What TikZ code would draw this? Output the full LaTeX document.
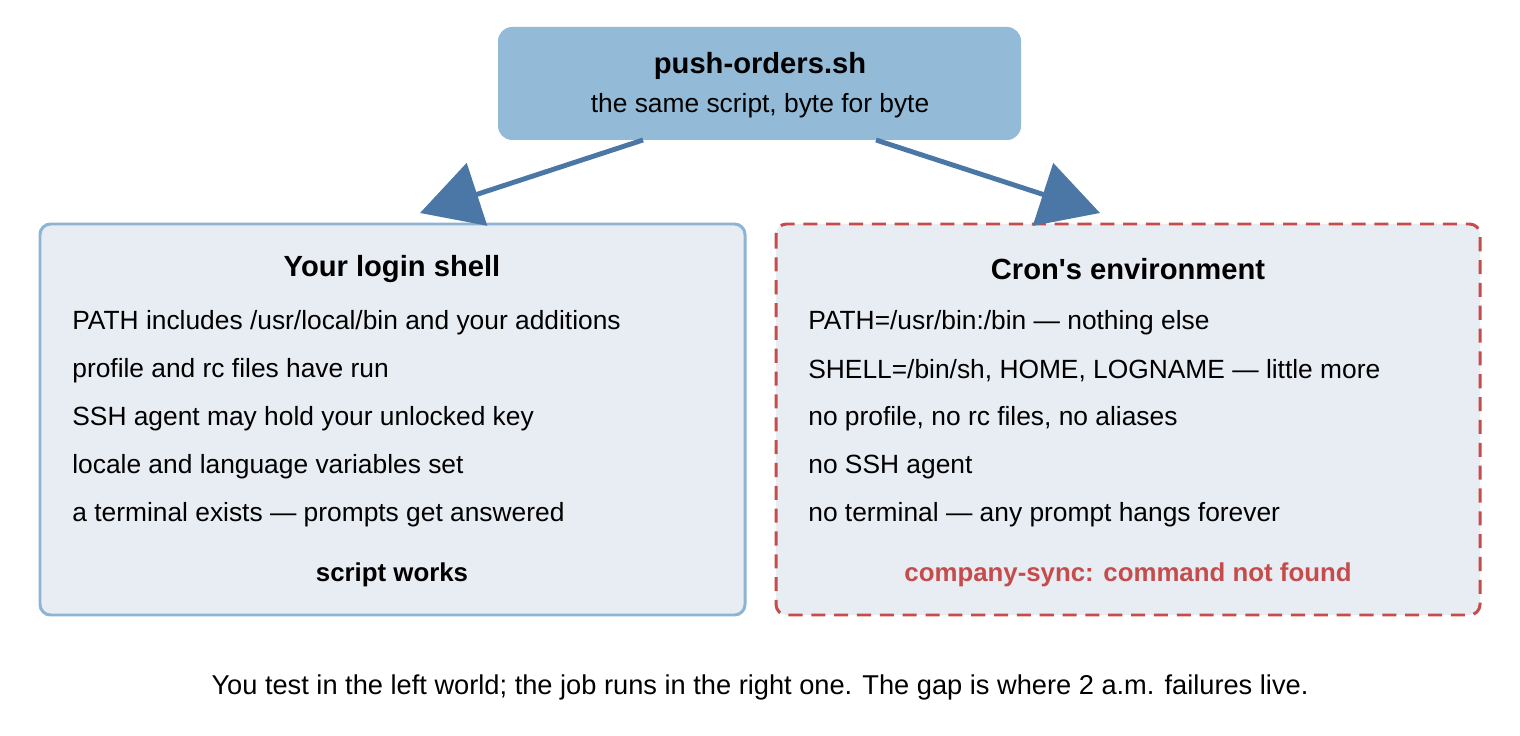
\documentclass[tikz,border=0pt]{standalone}
\usepackage{fontspec}
\setmainfont{Liberation Sans}
\usetikzlibrary{arrows.meta}
\definecolor{topfill}{HTML}{93BAD6}
\definecolor{boxfill}{HTML}{E8ECF3}
\definecolor{leftline}{HTML}{8DB4D4}
\definecolor{redline}{HTML}{C64C4C}
\definecolor{arrowblue}{HTML}{4A77A6}
\tikzset{
 item/.style={anchor=west, inner sep=0pt, font=\fontsize{15}{18}\selectfont},
 head/.style={font=\bfseries\fontsize{16.6}{20}\selectfont},
 verdict/.style={font=\bfseries\fontsize{14.7}{18}\selectfont},
 flow/.style={line width=2.8pt, arrowblue, -{Triangle[length=1.2cm,width=1.3cm]}}
}
\begin{document}
\begin{tikzpicture}[x=0.02cm,y=-0.02cm]
 \useasboundingbox (0,0) rectangle (1520,736);
 % boxes
 \draw[fill=topfill, draw=none, rounded corners=8pt] (498,27) rectangle (1021,140);
 \draw[fill=boxfill, draw=leftline, line width=1.7pt, rounded corners=6pt] (40,224) rectangle (745,615);
 \draw[fill=boxfill, draw=redline, line width=1.7pt, dashed, dash pattern=on 8pt off 5pt, rounded corners=6pt] (776,224) rectangle (1480,615);

 \node[head] (top) at (760,66) {push-orders.sh};
 \node[item, anchor=center] (same) at (760,106) {the same script, byte for byte};

 % arrows
 \coordinate (fromL) at (643,140);
 \coordinate (fromR) at (876,140);
 \coordinate (toL) at (420,213);
 \coordinate (toR) at (1100,213);
 \draw[flow] (fromL) -- (toL);
 \draw[flow] (fromR) -- (toR);

 % left world
 \node[head] (login) at (392,269) {Your login shell};
 \node[item] (l1) at (72,323) {PATH includes /usr/local/bin and your additions};
 \node[item] (l2) at (72,371) {profile and rc files have run};
 \node[item] (l3) at (72,419) {SSH agent may hold your unlocked key};
 \node[item] (l4) at (72,467) {locale and language variables set};
 \node[item] (l5) at (72,515) {a terminal exists — prompts get answered};
 \node[verdict] (works) at (392,575) {script works};

 % right world
 \node[head] (cron) at (1128,269) {Cron\textquotesingle s environment};
 \node[item] (r1) at (808,323) {PATH=/usr/bin:/bin — nothing else};
 \node[item] (r2) at (808,371) {SHELL=/bin/sh, HOME, LOGNAME — little more};
 \node[item] (r3) at (808,419) {no profile, no rc files, no aliases};
 \node[item] (r4) at (808,467) {no SSH agent};
 \node[item] (r5) at (808,515) {no terminal — any prompt hangs forever};
 \node[verdict, text=redline] (fail) at (1128,575) {company-sync: command not found};

 \node[font=\fontsize{15.5}{18}\selectfont] (note) at (760,687) {You test in the left world; the job runs in the right one. The gap is where 2 a.m. failures live.};
\end{tikzpicture}
\end{document}
